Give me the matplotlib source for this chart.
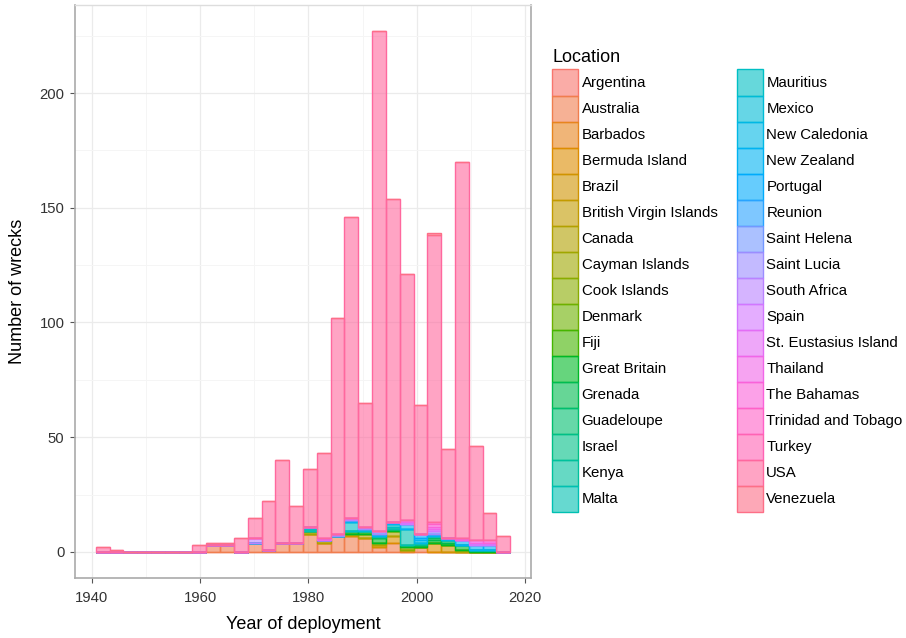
import numpy as np
import matplotlib
matplotlib.use("Agg")
import matplotlib.pyplot as plt
from matplotlib.patches import Patch

plt.rcParams['font.family'] = ['Liberation Sans', 'DejaVu Sans']

# ---------------- data ----------------
locations = ["Argentina", "Australia", "Barbados", "Bermuda Island", "Brazil",
             "British Virgin Islands", "Canada", "Cayman Islands", "Cook Islands",
             "Denmark", "Fiji", "Great Britain", "Grenada", "Guadeloupe", "Israel",
             "Kenya", "Malta", "Mauritius", "Mexico", "New Caledonia", "New Zealand",
             "Portugal", "Reunion", "Saint Helena", "Saint Lucia", "South Africa",
             "Spain", "St. Eustasius Island", "Thailand", "The Bahamas",
             "Trinidad and Tobago", "Turkey", "USA", "Venezuela"]

# histogram: 30 bins, centred from the first to the last deployment year
first_year = 1942
last_year = 2016
n_bins = 30

# counts per bin (30 bins, oldest first)
argentina      = [0]*30
australia      = [0,0,0,0,0,0,0,0,3,3,0,4,1,4,4,8,4,7,7,6,2,4,0,2,0,0,0,0,0,0]
barbados       = [0,0,0,0,0,0,0,0,0,0,0,0,0,0,0,0,0,0,0,0,0,0,1,0,0,0,0,0,0,0]
bermuda_island = [0,0,0,0,0,0,0,0,0,0,0,0,0,0,0,0,0,0,0,0,0,3,0,0,4,0,0,0,0,0]
brazil         = [0,0,0,0,0,0,0,0,0,0,0,0,0,0,0,0,0,0,1,0,1,0,0,0,0,3,0,0,0,0]
british_vi     = [0]*30
canada         = [0,0,0,0,0,0,0,0,0,0,0,0,0,0,0,0,1,0,0,2,1,2,0,0,0,0,1,0,0,0]
cayman_islands = [0,0,0,0,0,0,0,0,0,0,0,0,0,0,0,1,0,0,0,0,0,0,0,0,0,0,0,0,0,0]
cook_islands   = [0,0,0,0,0,0,0,0,0,0,0,0,0,0,0,0,0,0,0,0,0,0,1,0,0,0,0,0,0,0]
denmark        = [0]*30
fiji           = [0]*30
great_britain  = [0,0,0,0,0,0,0,0,0,0,0,0,0,0,0,0,0,0,1,1,2,1,1,1,1,1,2,1,1,0]
grenada        = [0,0,0,0,0,0,0,0,0,0,0,0,0,0,0,0,0,0,0,0,0,0,0,0,1,1,0,0,0,0]
guadeloupe     = [0,0,0,0,0,0,0,0,0,0,0,0,0,0,0,0,0,0,0,0,1,0,0,0,1,0,0,0,0,0]
israel         = [0,0,0,0,0,0,0,0,0,0,0,0,0,0,0,0,0,0,0,0,0,0,0,1,0,0,0,0,0,0]
kenya          = [0]*30
malta          = [0,0,0,0,0,0,0,0,0,0,0,0,0,0,0,1,0,0,0,0,0,1,7,0,0,0,0,0,0,0]
mauritius      = [0,0,0,0,0,0,0,0,0,0,0,0,0,0,0,1,0,0,4,0,0,1,0,0,0,0,0,0,0,0]
mexico         = [0,0,0,0,0,0,0,0,0,0,0,0,0,0,0,0,0,0,0,1,0,0,0,0,0,0,0,0,0,0]
new_caledonia  = [0,0,0,0,0,0,0,0,0,0,0,0,0,0,0,0,0,0,0,0,0,0,0,1,0,1,0,0,0,0]
new_zealand    = [0,0,0,0,0,0,0,0,0,0,0,0,0,0,0,0,0,0,1,0,1,1,2,1,1,0,2,2,2,0]
portugal       = [0,0,0,0,0,0,0,0,0,0,0,0,0,0,0,0,0,0,0,0,0,0,0,2,0,0,0,0,0,0]
reunion        = [0]*30
saint_helena   = [0]*30
saint_lucia    = [0,0,0,0,0,0,0,0,0,0,0,0,0,0,0,0,0,1,0,1,1,0,0,0,1,0,0,0,0,0]
south_africa   = [0,0,0,0,0,0,0,0,0,0,0,2,0,0,0,0,0,0,1,0,0,0,0,0,0,0,0,0,0,0]
spain          = [0,0,0,0,0,0,0,0,0,0,0,0,0,0,0,0,0,0,0,0,0,0,1,0,1,0,0,1,1,0]
st_eustasius   = [0]*30
thailand       = [0,0,0,0,0,0,0,0,0,0,0,0,0,0,0,0,1,0,0,0,0,0,1,0,1,0,0,1,0,0]
the_bahamas    = [0,0,0,0,0,0,0,0,0,0,0,0,0,0,0,0,0,0,0,0,0,0,0,0,1,0,1,0,1,0]
trinidad       = [0,0,0,0,0,0,0,0,0,0,0,0,0,0,0,0,0,0,0,0,0,0,0,0,1,0,0,0,0,0]
turkey         = [0]*30
usa            = [2,1,0,0,0,0,0,3,1,1,6,9,21,36,16,25,37,94,131,54,218,141,107,56,125,39,164,41,12,7]
venezuela      = [0,0,0,0,0,0,0,0,0,0,0,0,0,0,0,0,0,0,0,0,0,0,0,0,1,0,0,0,0,0]

series = [argentina, australia, barbados, bermuda_island, brazil, british_vi,
          canada, cayman_islands, cook_islands, denmark, fiji, great_britain,
          grenada, guadeloupe, israel, kenya, malta, mauritius, mexico,
          new_caledonia, new_zealand, portugal, reunion, saint_helena,
          saint_lucia, south_africa, spain, st_eustasius, thailand,
          the_bahamas, trinidad, turkey, usa, venezuela]

x_ticks = [1940, 1960, 1980, 2000, 2020]
y_ticks = [0, 50, 100, 150, 200]


# ---------------- ggplot-like hue palette ----------------
def hcl_to_rgb(h, c=100.0, l=65.0):
    hr = np.deg2rad(h)
    u, v = c * np.cos(hr), c * np.sin(hr)
    Xn, Yn, Zn = 95.047, 100.0, 108.883
    un = 4 * Xn / (Xn + 15 * Yn + 3 * Zn)
    vn = 9 * Yn / (Xn + 15 * Yn + 3 * Zn)
    Y = Yn * ((l + 16) / 116) ** 3 if l > 8 else Yn * l / 903.3
    up = u / (13 * l) + un
    vp = v / (13 * l) + vn
    X = 9.0 * Y * up / (4 * vp)
    Z = -X / 3 - 5 * Y + 3 * Y / vp
    X, Y, Z = X / 100, Y / 100, Z / 100
    r = 3.240479 * X - 1.537150 * Y - 0.498535 * Z
    g = -0.969256 * X + 1.875992 * Y + 0.041556 * Z
    b = 0.055648 * X - 0.204043 * Y + 1.057311 * Z

    def gam(t):
        t = min(max(t, 0.0), 1.0)
        return 12.92 * t if t <= 0.0031308 else 1.055 * t ** (1 / 2.4) - 0.055
    return (gam(r), gam(g), gam(b))


n = len(locations)
hues = [15 + i * 360.0 / n for i in range(n)]
line_cols = [hcl_to_rgb(h % 360) for h in hues]
alpha = 0.6
fill_cols = [(r, g, b, alpha) for (r, g, b) in line_cols]

# ---------------- figure ----------------
W, H = 906, 638
fig = plt.figure(figsize=(W / 100, H / 100), dpi=100)
ax = fig.add_axes([75 / W, 60 / H, 456 / W, 573 / H])

width = (last_year - first_year) / (n_bins - 1)
centers = np.linspace(first_year, last_year, n_bins)

bottom = np.zeros(n_bins)
for i, vals in enumerate(series):
    vals = np.asarray(vals, dtype=float)
    ax.bar(centers, vals, width=width, bottom=bottom, color=fill_cols[i],
           edgecolor=line_cols[i], linewidth=1.0, zorder=2)
    bottom = bottom + vals

# scales with 5% expansion like ggplot
x0, x1 = centers[0] - width / 2, centers[-1] + width / 2
dx = (x1 - x0) * 0.05
ax.set_xlim(x0 - dx, x1 + dx)
ymax = bottom.max()
ax.set_ylim(-0.05 * ymax, ymax * 1.05)

ax.set_xticks(x_ticks)
ax.set_xticks([t + 10 for t in x_ticks[:-1]], minor=True)
ax.set_yticks(y_ticks)
ax.set_yticks([t + 25 for t in y_ticks], minor=True)
ax.grid(True, which='major', color='#EBEBEB', linewidth=0.9, zorder=0)
ax.grid(True, which='minor', color='#F5F5F5', linewidth=0.7, zorder=0)
ax.set_axisbelow(True)
ax.tick_params(which='minor', length=0)
ax.tick_params(which='major', length=3.6, width=0.8, color='#555555',
               labelsize=10.7, labelcolor='#333333')
ax.tick_params(axis='x', which='major', pad=6)
ax.tick_params(axis='y', which='major', pad=4)

for s in ['left', 'bottom', 'right']:
    ax.spines[s].set_color('#AAAAAA')
    ax.spines[s].set_linewidth(1.2)
ax.spines['top'].set_color('#DDDDDD')
ax.spines['top'].set_linewidth(1.0)

ax.set_xlabel("Year of deployment", fontsize=13, labelpad=8)
ax.set_ylabel("Number of wrecks", fontsize=13, labelpad=10)

# legend (title placed separately to match the gap below it)
fig.text(552 / W, 1 - 57 / H, "Location", fontsize=13, ha='left', va='center')
handles = [Patch(facecolor=fill_cols[i], edgecolor=line_cols[i], linewidth=1.0)
           for i in range(n)]
leg = fig.legend(handles, locations, loc='upper left',
                 bbox_to_anchor=(552 / W, 1 - 69.5 / H), ncol=2,
                 fontsize=10.8, frameon=False,
                 handlelength=1.73, handleheight=2.29,
                 labelspacing=0.0, handletextpad=0.25, columnspacing=1.27,
                 borderpad=0, borderaxespad=0)

fig.savefig("out.png", dpi=100)
